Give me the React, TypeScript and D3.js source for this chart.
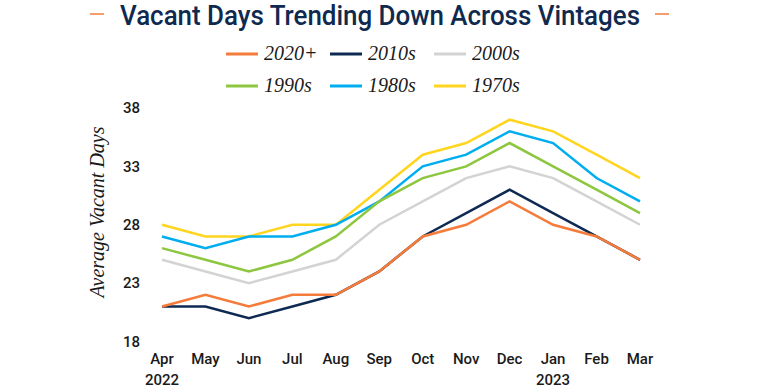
import React, { useEffect, useRef } from "react";
import * as d3 from "d3";

const months = ["Apr", "May", "Jun", "Jul", "Aug", "Sep", "Oct", "Nov", "Dec", "Jan", "Feb", "Mar"];
const yearLabels = ["2022", "", "", "", "", "", "", "", "", "2023", "", ""];
const yTicks = [18, 23, 28, 33, 38];

const vintages = ["2020+", "2010s", "2000s", "1990s", "1980s", "1970s"];
const colors = ["#F47B3A", "#0E2A52", "#D3D3D3", "#8DC63F", "#00AEEF", "#FFD51F"];

const v2020 = [21, 22, 21, 22, 22, 24, 27, 28, 30, 28, 27, 25];
const v2010 = [21, 21, 20, 21, 22, 24, 27, 29, 31, 29, 27, 25];
const v2000 = [25, 24, 23, 24, 25, 28, 30, 32, 33, 32, 30, 28];
const v1990 = [26, 25, 24, 25, 27, 30, 32, 33, 35, 33, 31, 29];
const v1980 = [27, 26, 27, 27, 28, 30, 33, 34, 36, 35, 32, 30];
const v1970 = [28, 27, 27, 28, 28, 31, 34, 35, 37, 36, 34, 32];

const seriesValues = [v2020, v2010, v2000, v1990, v1980, v1970];
// draw order: gray first, then others, 2020+ on top
const drawOrder = [2, 5, 4, 3, 1, 0];

const App = () => {
  const ref = useRef<SVGSVGElement>(null);

  useEffect(() => {
    const width = 771;
    const height = 391;
    const svg = d3.select(ref.current);
    svg.selectAll("*").remove();
    svg.attr("width", width).attr("height", height);

    const x = d3.scalePoint<string>().domain(months).range([162, 640]);
    const y = d3.scaleLinear().domain([18, 38]).range([341.5, 108]);

    // Title
    svg
      .append("text")
      .attr("x", 120)
      .attr("y", 25)
      .attr("textLength", 520)
      .attr("lengthAdjust", "spacingAndGlyphs")
      .style("font-family", "Roboto, sans-serif")
      .style("font-weight", 500)
      .style("font-size", "28px")
      .style("fill", "#10294F")
      .text("Vacant Days Trending Down Across Vintages");

    [
      [90, 104],
      [655, 669],
    ].forEach(([a, b]) => {
      svg
        .append("line")
        .attr("x1", a)
        .attr("x2", b)
        .attr("y1", 14)
        .attr("y2", 14)
        .style("stroke", "#F47B3A")
        .style("stroke-width", 1.5);
    });

    // Legend
    vintages.forEach((name, i) => {
      const col = i % 3;
      const row = Math.floor(i / 3);
      const lx = 226 + col * 104;
      const ly = 54 + row * 32;
      svg
        .append("line")
        .attr("x1", lx)
        .attr("x2", lx + 32)
        .attr("y1", ly)
        .attr("y2", ly)
        .style("stroke", colors[i])
        .style("stroke-width", 3);
      svg
        .append("text")
        .attr("x", lx + 38)
        .attr("y", ly + 6)
        .style("font-family", "'Liberation Serif', serif")
        .style("font-style", "italic")
        .style("font-size", "20px")
        .style("fill", "#1a1a1a")
        .text(name);
    });

    // Y axis title
    svg
      .append("text")
      .attr("transform", `translate(104, 212) rotate(-90)`)
      .attr("text-anchor", "middle")
      .style("font-family", "'Liberation Serif', serif")
      .style("font-style", "italic")
      .style("font-size", "20px")
      .style("fill", "#1a1a1a")
      .text("Average Vacant Days");

    // Y tick labels
    yTicks.forEach((t) => {
      svg
        .append("text")
        .attr("x", 140)
        .attr("y", y(t))
        .attr("dy", "0.35em")
        .attr("text-anchor", "end")
        .style("font-family", "Roboto, sans-serif")
        .style("font-weight", 500)
        .style("font-size", "15px")
        .style("fill", "#1a1a1a")
        .text(t);
    });

    // X tick labels
    months.forEach((m, i) => {
      svg
        .append("text")
        .attr("x", x(m)!)
        .attr("y", 364)
        .attr("text-anchor", "middle")
        .style("font-family", "Roboto, sans-serif")
        .style("font-weight", 500)
        .style("font-size", "15px")
        .style("fill", "#1a1a1a")
        .text(m);
      if (yearLabels[i]) {
        svg
          .append("text")
          .attr("x", x(m)!)
          .attr("y", 385)
          .attr("text-anchor", "middle")
          .style("font-family", "Roboto, sans-serif")
          .style("font-weight", 500)
          .style("font-size", "15px")
          .style("fill", "#1a1a1a")
          .text(yearLabels[i]);
      }
    });

    // Lines
    const line = d3
      .line<number>()
      .x((_, i) => x(months[i])!)
      .y((d) => y(d));

    drawOrder.forEach((idx) => {
      svg
        .append("path")
        .datum(seriesValues[idx])
        .attr("d", line)
        .style("fill", "none")
        .style("stroke", colors[idx])
        .style("stroke-width", 2.5)
        .style("stroke-linejoin", "miter");
    });
  }, []);

  return (
    <svg
      ref={ref}
      style={{ position: "absolute", left: 0, top: 0, background: "#fff" }}
    ></svg>
  );
};

export default App;
